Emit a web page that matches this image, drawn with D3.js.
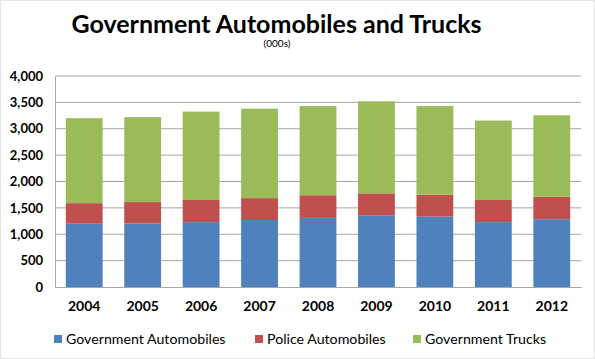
<!DOCTYPE html>
<html><head><meta charset="utf-8">
<script src="https://cdn.jsdelivr.net/npm/d3@7"></script>
<style>body{margin:0;background:#fff}svg{display:block}</style>
</head><body>
<script>
const years = ["2004","2005","2006","2007","2008","2009","2010","2011","2012"];
const govAutos = [1200,1205,1230,1270,1310,1360,1335,1230,1285];
const policeAutos = [390,405,420,415,430,415,415,420,425];
const govTrucks = [1610,1610,1675,1695,1690,1745,1680,1505,1545];
const seriesNames = ["Government Automobiles","Police Automobiles","Government Trucks"];
const seriesColors = ["#4F81BD","#C0504D","#9BBB59"];
const yTicks = [0,500,1000,1500,2000,2500,3000,3500,4000];

const W=595,H=359;
const svg=d3.select("body").append("svg").attr("width",W).attr("height",H);
svg.append("rect").attr("x",0.5).attr("y",0.5).attr("width",W-1).attr("height",H-1).attr("fill","#fff").attr("stroke","#e4e4e4");
const m={l:55,r:581,t:76,b:287};
const x=d3.scaleBand().domain(years).range([m.l,m.r]).paddingInner(0.37).paddingOuter(0.185);
const y=d3.scaleLinear().domain([0,4000]).range([m.b,m.t]);

const font="Lato, 'Open Sans', sans-serif";
svg.append("text").attr("x",276.5).attr("y",33).attr("text-anchor","middle")
  .attr("font-family",font).attr("font-weight","bold").attr("font-size",25).attr("fill","#000")
  .text("Government Automobiles and Trucks");
svg.append("text").attr("x",277).attr("y",46.5).attr("text-anchor","middle")
  .attr("font-family",font).attr("font-size",10).attr("fill","#000").text("(000s)");

// grid
svg.append("g").selectAll("line").data(yTicks.filter(d=>d>0)).join("line")
  .attr("x1",m.l).attr("x2",m.r).attr("y1",d=>y(d)).attr("y2",d=>y(d))
  .attr("stroke","#a6a6a6").attr("stroke-width",1);
// axes
const ya=svg.append("g").attr("transform",`translate(${m.l},0)`)
  .call(d3.axisLeft(y).tickValues(yTicks).tickFormat(d3.format(",")).tickSize(0).tickPadding(12));
ya.select(".domain").attr("stroke","#a6a6a6");
ya.selectAll("text").attr("font-family",font).attr("font-weight","bold").attr("font-size",13).attr("fill","#000");

const data=years.map((yr,i)=>({year:yr,a:govAutos[i],b:policeAutos[i],c:govTrucks[i]}));
const stack=d3.stack().keys(["a","b","c"])(data);
svg.append("g").selectAll("g").data(stack).join("g").attr("fill",(d,i)=>seriesColors[i])
  .selectAll("rect").data(d=>d).join("rect")
  .attr("x",d=>x(d.data.year)).attr("width",x.bandwidth())
  .attr("y",d=>y(d[1])).attr("height",d=>y(d[0])-y(d[1]));

const xa=svg.append("g").attr("transform",`translate(0,${m.b})`)
  .call(d3.axisBottom(x).tickSize(0).tickPadding(14));
xa.select(".domain").attr("stroke","#a6a6a6");
xa.selectAll("text").attr("font-family",font).attr("font-weight","bold").attr("font-size",14).attr("fill","#000");

// legend
const legX=[54,255,413];
const lg=svg.append("g").selectAll("g").data(seriesNames).join("g")
  .attr("transform",(d,i)=>`translate(${legX[i]},335)`);
lg.append("rect").attr("width",8).attr("height",8).attr("fill",(d,i)=>seriesColors[i]);
lg.append("text").attr("x",12).attr("y",8.5).attr("font-family",font).attr("font-size",14.2).attr("fill","#000").text(d=>d);
</script>
</body></html>
